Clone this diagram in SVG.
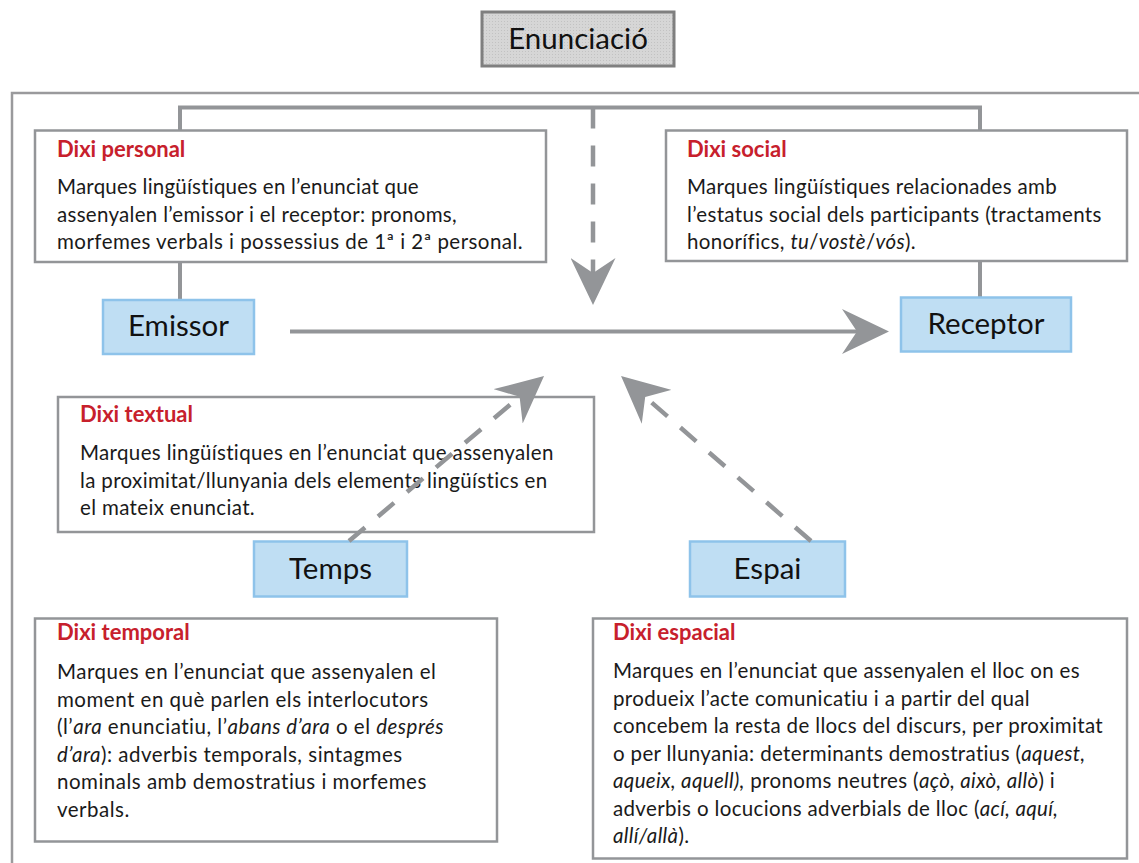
<svg xmlns="http://www.w3.org/2000/svg" width="1139" height="863" viewBox="0 0 1139 863">
  <defs>
    <pattern id="dots" width="3" height="3" patternUnits="userSpaceOnUse">
      <rect width="3" height="3" fill="#d6d6d6"/>
      <rect width="1" height="1" fill="#c2c2c2"/>
    </pattern>
    <marker id="head" markerUnits="userSpaceOnUse" viewBox="0 0 47 45" refX="15" refY="22.5" markerWidth="47" markerHeight="45" orient="auto">
      <path d="M0,0 L47,22.5 L0,45 L15,22.5 Z" fill="#939598"/>
    </marker>
    <style>
      .box { fill: #ffffff; stroke: #939598; stroke-width: 2.5; }
      .node { fill: #bfdef3; stroke: #8ec3ea; stroke-width: 2.5; }
      .head { font-family: Lato, "Liberation Sans", sans-serif; font-weight: 700; font-size: 22px; fill: #c7202c; }
      .body { font-family: Lato, "Liberation Sans", sans-serif; font-size: 20.5px; letter-spacing: 0.35px; fill: #1a1a1a; }
      .wide .body { letter-spacing: 0.5px; }
      .label { font-family: Lato, "Liberation Sans", sans-serif; font-size: 29.5px; fill: #111111; text-anchor: middle; }
      .it { font-style: italic; }
      .line { fill: none; stroke: #939598; stroke-width: 4; }
      .dash { fill: none; stroke: #939598; stroke-width: 4.5; stroke-dasharray: 21 17; }
      .frame { fill: none; stroke: #9a9a9c; stroke-width: 2.5; }
    </style>
  </defs>

  <rect width="1139" height="863" fill="#ffffff"/>

  <!-- outer frame -->
  <path class="frame" d="M12,863 V93 H1139"/>

  <!-- title -->
  <g id="title">
    <rect x="482" y="12" width="192" height="54" fill="url(#dots)" stroke="#7f7f7f" stroke-width="3"/>
    <text class="label" x="578" y="49" font-size="31">Enunciació</text>
  </g>

  <!-- upper bracket and stems -->
  <g id="bracket">
    <path class="line" d="M180,131 V107.5 H980 V131"/>
    <path class="line" d="M180,262 V300"/>
    <path class="line" d="M980,261 V297"/>
  </g>

  <g id="dixi-personal">
    <rect class="box" x="35" y="130.5" width="511" height="131.5"/>
    <text class="head" x="57" y="157">Dixi personal</text>
    <text class="body" x="57" y="194" textLength="362">Marques lingüístiques en l’enunciat que</text>
    <text class="body" x="57" y="221.5" textLength="400">assenyalen l’emissor i el receptor: pronoms,</text>
    <text class="body" x="57" y="249" textLength="466">morfemes verbals i possessius de 1ª i 2ª personal.</text>
  </g>

  <g id="dixi-social">
    <rect class="box" x="666" y="130.5" width="461" height="130.5"/>
    <text class="head" x="687" y="157">Dixi social</text>
    <text class="body" x="687" y="194">Marques lingüístiques relacionades amb</text>
    <text class="body" x="687" y="221.5">l’estatus social dels participants (tractaments</text>
    <text class="body" x="687" y="249">honorífics, <tspan class="it">tu</tspan>/<tspan class="it">vostè</tspan>/<tspan class="it">vós</tspan>).</text>
  </g>

  <g id="emissor">
    <rect class="node" x="103" y="300" width="151" height="54"/>
    <text class="label" x="178.5" y="336">Emissor</text>
  </g>

  <g id="receptor">
    <rect class="node" x="901" y="297.5" width="170" height="54"/>
    <text class="label" x="986" y="334">Receptor</text>
  </g>

  <g id="dixi-textual">
    <rect class="box" x="58" y="397" width="536" height="135"/>
    <text class="head" x="80" y="422">Dixi textual</text>
    <text class="body" x="80" y="460">Marques lingüístiques en l’enunciat que assenyalen</text>
    <text class="body" x="80" y="487.5">la proximitat/llunyania dels elements lingüístics en</text>
    <text class="body" x="80" y="515">el mateix enunciat.</text>
  </g>

  <g id="temps">
    <rect class="node" x="254" y="541.5" width="153" height="55"/>
    <text class="label" x="330.5" y="578.5">Temps</text>
  </g>

  <g id="espai">
    <rect class="node" x="690" y="541.5" width="155" height="55"/>
    <text class="label" x="767.5" y="578.5">Espai</text>
  </g>

  <g id="dixi-temporal" class="wide">
    <rect class="box" x="35" y="618.5" width="462" height="223"/>
    <text class="head" x="57" y="640">Dixi temporal</text>
    <text class="body" x="57" y="679">Marques en l’enunciat que assenyalen el</text>
    <text class="body" x="57" y="706.5">moment en què parlen els interlocutors</text>
    <text class="body" x="57" y="734">(l’<tspan class="it">ara</tspan> enunciatiu, l’<tspan class="it">abans d’ara</tspan> o el <tspan class="it">després</tspan></text>
    <text class="body" x="57" y="761.5"><tspan class="it">d’ara</tspan>): adverbis temporals, sintagmes</text>
    <text class="body" x="57" y="789">nominals amb demostratius i morfemes</text>
    <text class="body" x="57" y="816.5">verbals.</text>
  </g>

  <g id="dixi-espacial">
    <rect class="box" x="593" y="618.5" width="534" height="240"/>
    <text class="head" x="613" y="640">Dixi espacial</text>
    <text class="body" x="613" y="678">Marques en l’enunciat que assenyalen el lloc on es</text>
    <text class="body" x="613" y="705.5">produeix l’acte comunicatiu i a partir del qual</text>
    <text class="body" x="613" y="733">concebem la resta de llocs del discurs, per proximitat</text>
    <text class="body" x="613" y="760.5">o per llunyania: determinants demostratius (<tspan class="it">aquest,</tspan></text>
    <text class="body" x="613" y="788"><tspan class="it">aqueix, aquell),</tspan> pronoms neutres (<tspan class="it">açò, això, allò</tspan>) i</text>
    <text class="body" x="613" y="815.5">adverbis o locucions adverbials de lloc (<tspan class="it">ací, aquí,</tspan></text>
    <text class="body" x="613" y="843"><tspan class="it">allí/allà</tspan>).</text>
  </g>

  <!-- connectors -->
  <g id="connectors">
    <path class="line" d="M290,331.5 H857" marker-end="url(#head)"/>
    <path class="dash" d="M593,107.5 V273" marker-end="url(#head)"/>
    <path class="dash" d="M349,541 L519.6,396.7" marker-end="url(#head)"/>
    <path class="dash" d="M811,541 L645.2,397" marker-end="url(#head)"/>
  </g>
</svg>
